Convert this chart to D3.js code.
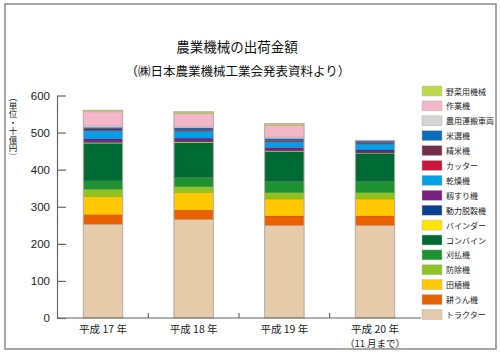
<!DOCTYPE html>
<html><head><meta charset="utf-8">
<script src="https://cdn.jsdelivr.net/npm/d3@7"></script>
<style>
html,body{margin:0;padding:0;background:#fff;}
svg{display:block;font-family:"Noto Sans CJK JP","Noto Sans",sans-serif;}
</style></head>
<body><svg id="c" width="500" height="356"></svg>
<script>
const categories = ["平成 17 年", "平成 18 年", "平成 19 年", "平成 20 年"];
const categoryNotes = ["", "", "", "（11 月まで）"];
// stack order bottom -> top
const seriesNames = ["トラクター","耕うん機","田植機","防除機","刈払機","コンバイン","バインダー","動力脱穀機","籾すり機","乾燥機","カッター","精米機","米選機","農用運搬車両","作業機","野菜用機械"];
const seriesColors = ["#e6cbab","#ea6200","#ffc800","#8fc31f","#1e9132","#006a35","#ffe500","#0d3f8f","#7a1f82","#00a0e6","#c8163c","#74304a","#0b6cbf","#d4d4d4","#f4b7c7","#bcd94a"];
const v_tractor = [253, 266, 250, 250];
const v_tiller  = [26, 25, 25, 25];
const v_planter = [48, 47, 46, 46];
const v_sprayer = [20, 16, 17, 17];
const v_brush   = [23, 25, 30, 30];
const v_combine = [101, 94, 80, 76];
const v_binder  = [2, 2, 2, 1];
const v_thresher= [2, 2, 2, 2];
const v_husker  = [8, 8, 8, 6];
const v_dryer   = [22, 19, 15, 16];
const v_cutter  = [2, 2, 2, 2];
const v_polisher= [3, 3, 2, 2];
const v_sorter  = [4, 4, 5, 4];
const v_carrier = [4, 3, 4, 2];
const v_implement=[38, 36, 32, 0];
const v_vegetable=[4, 4, 4, 0];
const yTicks = [0, 100, 200, 300, 400, 500, 600];
const unitLabel = "（単位・十億円）";

const seriesValues = [v_tractor,v_tiller,v_planter,v_sprayer,v_brush,v_combine,v_binder,v_thresher,v_husker,v_dryer,v_cutter,v_polisher,v_sorter,v_carrier,v_implement,v_vegetable];

const svg = d3.select("#c");
// frame
svg.append("rect").attr("x",5).attr("y",4).attr("width",491).attr("height",345)
  .attr("fill","none").attr("stroke","#8a8a8a").attr("stroke-width",1.5);

// titles
svg.append("text").attr("x",237).attr("y",52).attr("text-anchor","middle")
  .attr("font-size",13.5).attr("fill","#111").text("農業機械の出荷金額");
svg.append("text").attr("x",238).attr("y",76).attr("text-anchor","middle")
  .attr("font-size",12.5).attr("fill","#111").text("（㈱日本農業機械工業会発表資料より）");

const table = categories.map((c,i)=>{
  const o = {cat:c};
  seriesNames.forEach((s,j)=>o[s]=seriesValues[j][i]);
  return o;
});
const stacked = d3.stack().keys(seriesNames)(table);

const x = d3.scaleBand().domain(categories).range([57,421]).paddingInner(0.565).paddingOuter(0.29);
const y = d3.scaleLinear().domain([0,600]).range([318,95.5]);
const color = d3.scaleOrdinal().domain(seriesNames).range(seriesColors);

// bars
const g = svg.append("g");
stacked.forEach(layer=>{
  g.selectAll(null).data(layer).join("rect")
    .attr("x",d=>x(d.data.cat))
    .attr("width",x.bandwidth())
    .attr("y",d=>y(d[1]))
    .attr("height",d=>Math.max(0,y(d[0])-y(d[1])))
    .attr("fill",color(layer.key))
    .attr("stroke","rgba(0,0,0,0.18)").attr("stroke-width",d=>(d[1]-d[0])>0?0.5:0);
});
// bar outlines
g.selectAll(null).data(table).join("rect")
  .attr("x",d=>x(d.cat)).attr("width",x.bandwidth())
  .attr("y",d=>y(d3.sum(seriesNames,s=>d[s])))
  .attr("height",d=>y(0)-y(d3.sum(seriesNames,s=>d[s])))
  .attr("fill","none").attr("stroke","#b8b0a8").attr("stroke-width",1);

// y axis
const yAxis = d3.axisLeft(y).tickValues(yTicks).tickSizeInner(-9).tickSizeOuter(0).tickPadding(7);
const ya = svg.append("g").attr("transform","translate(57,0)").call(yAxis);
ya.select(".domain").attr("stroke","#666").attr("stroke-width",1.2);
ya.selectAll(".tick line").attr("stroke","#666").attr("stroke-width",1.2);
ya.selectAll(".tick text").attr("font-family","'Liberation Sans',Arial,sans-serif").attr("font-size",11.5).attr("fill","#222");

// x axis
svg.append("line").attr("x1",57).attr("x2",421).attr("y1",y(0)).attr("y2",y(0)).attr("stroke","#666").attr("stroke-width",1.2);
const step = x.step();
categories.slice(1).forEach(c=>{
  const bx = x(c) - (step - x.bandwidth())/2;
  svg.append("line").attr("x1",bx).attr("x2",bx).attr("y1",y(0)).attr("y2",y(0)-5).attr("stroke","#666").attr("stroke-width",1.2);
});
svg.selectAll(".xl").data(categories).join("text").attr("class","xl")
  .attr("x",d=>x(d)+x.bandwidth()/2).attr("y",333).attr("text-anchor","middle")
  .attr("font-size",10.5).attr("fill","#222").text(d=>d);
svg.selectAll(".xn").data(categories).join("text").attr("class","xn")
  .attr("x",d=>x(d)+x.bandwidth()/2).attr("y",346.5).attr("text-anchor","middle")
  .attr("font-size",9.5).attr("fill","#222").text((d,i)=>categoryNotes[i]);

// y unit label (vertical writing)
svg.append("text").attr("x",13).attr("y",93)
  .attr("style","writing-mode:vertical-rl;text-orientation:mixed;")
  .attr("font-size",8.5).attr("fill","#222").text(unitLabel);

// legend (top -> bottom is reverse of stack)
const legendItems = seriesNames.slice().reverse();
const lg = svg.append("g");
legendItems.forEach((s,i)=>{
  const yy = 86 + i*14.9;
  lg.append("rect").attr("x",422).attr("y",yy).attr("width",20).attr("height",10)
    .attr("fill",color(s)).attr("stroke","#bbb").attr("stroke-width",0.5);
  lg.append("text").attr("x",446).attr("y",yy+8.5).attr("font-size",8).attr("fill","#222").text(s);
});
</script></body></html>
